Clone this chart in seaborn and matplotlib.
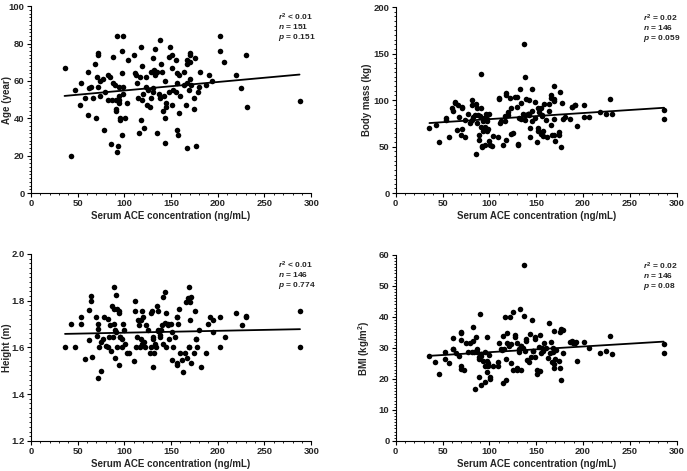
import matplotlib
matplotlib.use('Agg')
import matplotlib.pyplot as plt
from matplotlib.ticker import MultipleLocator, AutoMinorLocator
import seaborn as sns
import pandas as pd

# panel 1: age
ace_age = [36, 42.5, 47, 53, 54, 57.5, 61, 61, 62, 64, 66, 69, 70, 71.5, 71.5, 71, 71.5, 74, 74,
           77.5, 78, 79.5, 82, 83, 85, 86, 87, 88, 88, 90, 91, 91.5, 91.5, 92, 92, 93, 94, 94, 94, 94,
           95, 95, 97, 97.5, 98, 99, 99, 99, 101, 102.5, 104, 110, 111, 113, 114, 114.5, 116, 117,
           118, 118, 119, 119, 120, 121, 123, 123, 124, 125.5, 127, 128, 129, 131, 131, 131, 132,
           133, 133, 133, 135, 135, 137, 138.5, 138.5, 139, 140, 141, 142, 143.5, 143, 144, 145, 145,
           147.5, 147.5, 149, 151, 151, 151, 152, 155, 155, 156, 156, 156.5, 157, 158.5, 159, 160,
           163.5, 164, 166, 167, 167, 167, 167.5, 169, 170, 170, 170, 170, 171, 174.5, 175, 176, 177,
           178.5, 180, 181, 187, 191, 194, 202, 202.5, 207, 219, 225, 230, 231, 287.5]
age = [67, 20, 55, 47, 59, 51, 42, 65, 56, 57, 51, 69, 40, 75, 74, 62, 57, 52, 60,
       61, 34, 54, 50, 63, 62, 26, 50, 59, 73, 58, 50, 45, 44, 84, 22, 25, 57, 52, 50, 48,
       39, 40, 64, 76, 31, 84, 57, 53, 40, 48, 71, 74, 64, 63, 59, 51, 32, 62,
       78, 39, 50, 68, 53, 35, 57, 62, 47, 55, 46, 65, 51, 72, 56, 54, 66,
       77, 64, 63, 32, 65, 53, 82, 51, 69, 65, 44, 52, 60, 27, 40, 48, 46,
       73, 54, 78, 67, 47, 74, 55, 71, 54, 59, 64, 34, 31, 43, 63, 52,
       58, 65, 47, 71, 69, 24, 59, 55, 61, 75, 74, 70, 58, 51, 45, 72, 25,
       54, 57, 65, 58, 63, 60, 84, 76, 70, 63, 56, 74, 46, 49]

# panel 2: body mass
ace_mass = [36, 42.5, 46.5, 53.5, 53.5, 57, 60.5, 61, 63.5, 63.5, 65, 67, 68, 69.5, 70.5, 71, 71,
            74, 74, 77, 79.5, 81, 81.5, 81.5, 82.5, 85, 85.5, 86, 86.5, 87, 88, 89, 89, 90, 91, 91,
            91.5, 92, 92, 93, 93.5, 94, 95, 95.5, 95.5, 96.5, 97, 98, 98, 98.5, 99.5, 100, 101, 103,
            104, 109, 110, 110, 111, 112.5, 115, 116.5, 116.5, 117.5, 117.5, 118, 120, 120, 122, 123,
            123.5, 125.5, 127, 129, 129.5, 130.5, 130.5, 132, 133, 134, 134, 136, 137, 138, 138,
            138.5, 139, 141, 141, 142, 142, 142.5, 143.5, 143.5, 145, 146, 146, 148.5, 149, 150.5,
            152, 152, 151.5, 153.5, 155, 155.5, 156.5, 156.5, 157, 157, 158, 160, 161.5, 163.5, 164,
            165.5, 166, 166, 166.5, 168.5, 169, 169, 169, 169.5, 170, 174, 174, 175, 176, 178, 178.5,
            180.5, 186, 188, 188, 191, 191, 194, 200.5, 201.5, 206.5, 218.5, 224.5, 229, 230.5,
            286.5, 286.5]
mass = [70, 73, 55, 81, 79, 60, 92, 88, 98, 97, 68, 95, 82, 63, 69, 93, 91,
        60, 79, 85, 75, 79, 95, 100, 82, 84, 42, 96, 91, 75, 84, 62, 57, 83, 128, 91,
        71, 50, 51, 67, 77, 81, 52, 69, 71, 85, 67, 80, 78, 69, 56, 85, 52, 51,
        61, 60, 102, 101, 75, 78, 52, 78, 83, 105, 108, 57, 84, 87, 102, 91,
        64, 65, 103, 103, 93, 53, 52, 81, 112, 80, 97, 85, 160, 125, 79,
        84, 101, 85, 85, 85, 84, 100, 70, 60, 112, 88, 78, 98, 81, 55,
        70, 67, 92, 87, 64, 91, 84, 83, 67, 61, 96, 79, 60, 88, 96,
        73, 106, 102, 62, 63, 115, 101, 99, 80, 56, 66, 63, 109, 50, 97, 80,
        82, 80, 93, 93, 95, 95, 72, 82, 95, 82, 87, 85, 101, 85,
        89, 80]

# panel 3: height
ace_height = [36.5, 42.5, 47.5, 54, 54, 58, 62, 62.5, 64.5, 64.5, 65.5, 70, 70.5, 71.5, 72, 72, 72.5,
              74.5, 74.5, 77, 78.5, 80.5, 82, 83, 84, 84.5, 86, 87, 87.5, 88.5, 88.5, 89, 90, 90.5,
              91.5, 91.5, 92, 92.5, 94, 94, 94.5, 95, 95, 97, 97.5, 99, 100, 101, 102.5, 104.5, 110,
              111, 111.5, 112, 114, 115, 116, 116.5, 117.5, 118, 119, 119, 120, 120.5, 122.5, 123.5,
              125.5, 127, 128, 129, 130, 130.5, 130.5, 131, 131.5, 133, 133.5, 134.5, 135.5, 135.5,
              136.5, 138, 138, 139.5, 140.5, 141, 141.5, 143.5, 144, 144.5, 145, 146.5, 146.5, 147.5,
              150, 151.5, 151, 152, 154, 156, 156, 156, 156, 157, 159, 160, 161.5, 163, 165, 166, 167,
              168.5, 169, 169.5, 169.5, 170, 170, 171, 171.5, 175, 176, 177, 177, 178, 180, 182, 187,
              189, 191.5, 194.5, 195, 202, 202.5, 208, 219.5, 226, 230.5, 230.5, 288, 288]
height = [1.60, 1.70, 1.60, 1.73, 1.70, 1.55, 1.76, 1.63, 1.82, 1.80, 1.56, 1.73, 1.65, 1.47, 1.70, 1.68, 1.60,
          1.50, 1.625, 1.635, 1.73, 1.605, 1.72, 1.60, 1.645, 1.695, 1.585, 1.775, 1.645, 1.86, 1.70, 1.765, 1.675, 1.555,
          1.825, 1.665, 1.60, 1.765, 1.745, 1.755, 1.525, 1.645, 1.645, 1.60, 1.635, 1.70, 1.675, 1.615, 1.575, 1.575, 1.54,
          1.755, 1.80, 1.60, 1.645, 1.715, 1.695, 1.60, 1.635, 1.715, 1.755, 1.615, 1.73, 1.625, 1.60, 1.695,
          1.675, 1.575, 1.60, 1.745, 1.755, 1.645, 1.635, 1.515, 1.575, 1.615, 1.60, 1.775, 1.675, 1.67,
          1.755, 1.645, 1.655, 1.675, 1.695, 1.815, 1.615, 1.835, 1.705, 1.745, 1.60, 1.695, 1.70, 1.635,
          1.70, 1.665, 1.545, 1.60, 1.645, 1.525, 1.535, 1.73, 1.73, 1.70, 1.765, 1.575, 1.545, 1.495, 1.575, 1.795, 1.555,
          1.81, 1.86, 1.60, 1.60, 1.795, 1.715, 1.535, 1.815, 1.575, 1.755, 1.635, 1.635, 1.60, 1.675, 1.515, 1.575,
          1.70, 1.73, 1.715, 1.665, 1.60, 1.73, 1.645, 1.745, 1.695, 1.73, 1.735, 1.755, 1.60]

# panel 4: BMI
ace_bmi = [35.5, 42, 46, 53, 53, 57, 61, 61.5, 61.5, 64.5, 68, 70, 70, 70, 70, 70, 72.5, 75.5, 77, 79,
           81.5, 82, 83, 84, 85, 86, 87, 87, 88.5, 88.5, 89, 90, 91, 91, 91.5, 93, 95, 95, 95, 97,
           97, 98, 99, 99, 100, 101, 101, 103.5, 109, 109, 110.5, 112, 113.5, 114.5, 115, 116, 117,
           118, 118, 118.5, 119, 120.5, 122.5, 123, 123.5, 125.5, 125.5, 127.5, 127.5, 130, 130,
           129.5, 131.5, 132, 133, 133.5, 133.5, 134, 136, 137, 137.5, 138, 139, 139, 140.5, 142,
           143, 144.5, 146, 146.5, 146.5, 149, 149, 149, 151, 151, 153, 154, 154.5, 155, 156.5,
           157.5, 158.5, 160, 163, 164, 164.5, 165.5, 166.5, 168, 168, 168.5, 169.5, 169, 170.5,
           171, 174, 175, 175, 177, 179, 176, 179, 186, 188, 189, 191, 193, 194, 201, 206, 218,
           224.5, 229, 230.5, 286, 286]
bmi = [27.3, 25.3, 21.5, 28.6, 26.4, 25.1, 33.1, 29.7, 29.5, 28.4, 27.3, 35.1, 34.8, 32.5, 24, 23.3, 22.8, 31.6, 28.6, 31.4,
       28.8, 32.1, 36.8, 28.7, 16.7, 33.5, 29.6, 28.8, 26.9, 26.3, 20.5, 40.8, 28, 27.3, 17.9, 25.8, 19, 28.5, 24.3, 25.9,
       33.5, 22.2, 25, 24.3, 27.7, 20, 20.7, 24.3, 25.3, 24.3, 31.6, 29.5, 29.4, 33.8, 18.5, 29.7, 40.1,
       26.5, 19.6, 34.7, 31.6, 30.5, 40.1, 25, 31.1, 41.6, 23, 34.1, 33.4, 23.5, 23,
       31.7, 28.5, 29.5, 42.6, 22.8, 30.5, 30.7, 29.9, 40.4, 56.8, 28.9, 33, 32.2, 26.1, 25.3,
       34.4, 27.2, 38.9, 29, 29, 33.5, 32.9, 27.1, 21.5, 23, 30.2, 22.6, 34.2, 28.2, 29.9,
       29, 31.4, 29.8, 26.7, 37.9, 28.3, 32, 25.3, 28.8, 29.8, 24.8, 23.5, 35.4, 26.4,
       29.4, 25.9, 23.5, 35.1, 36, 35.7, 19.6, 28.3, 32, 32.3, 31.4, 31.6, 32, 25.7, 31.8, 30, 28.4,
       29, 33.8, 28.1, 31.2, 28.4]

xticks = [0, 50, 100, 150, 200, 250, 300]

panels = [
    (ace_age, age, 'Age (year)', (0, 100), 20, r'$\it{r}^\mathrm{2}$ < 0.01', '151', '0.151', '%d'),
    (ace_mass, mass, 'Body mass (kg)', (0, 200), 50, r'$\it{r}^\mathrm{2}$ = 0.02', '146', '0.059', '%d'),
    (ace_height, height, 'Height (m)', (1.2, 2.0), 0.2, r'$\it{r}^\mathrm{2}$ < 0.01', '146', '0.774', '%.1f'),
    (ace_bmi, bmi, r'BMI (kg/m$^\mathrm{2}$)', (0, 60), 10, r'$\it{r}^\mathrm{2}$ = 0.02', '146', '0.08', '%d'),
]

sns.set_theme(style='ticks')
plt.rcParams['font.family'] = ['Liberation Sans', 'DejaVu Sans']
plt.rcParams['mathtext.fontset'] = 'custom'
plt.rcParams['mathtext.rm'] = 'Liberation Sans:bold'
plt.rcParams['mathtext.it'] = 'Liberation Sans:italic:bold'
plt.rcParams['mathtext.bf'] = 'Liberation Sans:bold'

fig = plt.figure(figsize=(6.87, 4.71), dpi=100)
rects = [[0.045, 0.590, 0.408, 0.397], [0.576, 0.590, 0.409, 0.395],
         [0.045, 0.064, 0.408, 0.397], [0.576, 0.064, 0.409, 0.395]]
label_x = [-0.068, -0.083, -0.068, -0.083]

for rect, lx, (xs, ys, ylab, ylim, ystep, r2, n, p, fmt) in zip(rects, label_x, panels):
    ax = fig.add_axes(rect)
    df = pd.DataFrame({'ace': xs, 'val': ys})
    sns.regplot(data=df, x='ace', y='val', ax=ax, ci=None, color='black',
                scatter_kws={'s': 16, 'linewidths': 0, 'alpha': 1},
                line_kws={'linewidth': 1.3})
    ax.set_xlim(0, 300)
    ax.set_ylim(*ylim)
    ax.set_xticks(xticks)
    ax.yaxis.set_major_locator(MultipleLocator(ystep))
    ax.yaxis.set_major_formatter(matplotlib.ticker.FormatStrFormatter(fmt))
    ax.xaxis.set_minor_locator(AutoMinorLocator(5))
    ax.yaxis.set_minor_locator(AutoMinorLocator(10))
    ax.tick_params(which='major', length=3, width=0.8, labelsize=6.8, pad=1.5, color='black')
    ax.tick_params(which='minor', length=1.5, width=0.6, color='black')
    for lab in ax.get_xticklabels() + ax.get_yticklabels():
        lab.set_fontweight('bold')
    ax.set_xlabel('Serum ACE concentration (ng/mL)', fontsize=7, fontweight='bold', labelpad=2)
    ax.set_ylabel(ylab, fontsize=7, fontweight='bold')
    ax.yaxis.set_label_coords(lx, 0.5)
    sns.despine(ax=ax)
    for sp in ['left', 'bottom']:
        ax.spines[sp].set_linewidth(0.8)
        ax.spines[sp].set_color('black')
    ax.text(0.88, 0.97, r2, transform=ax.transAxes, fontsize=6, fontweight='bold', va='top', ha='left')
    ax.text(0.88, 0.915, r'$\it{n}$ = ' + n, transform=ax.transAxes, fontsize=6, fontweight='bold', va='top', ha='left')
    ax.text(0.88, 0.86, r'$\it{p}$ = ' + p, transform=ax.transAxes, fontsize=6, fontweight='bold', va='top', ha='left')

fig.savefig('out.png', dpi=100)
